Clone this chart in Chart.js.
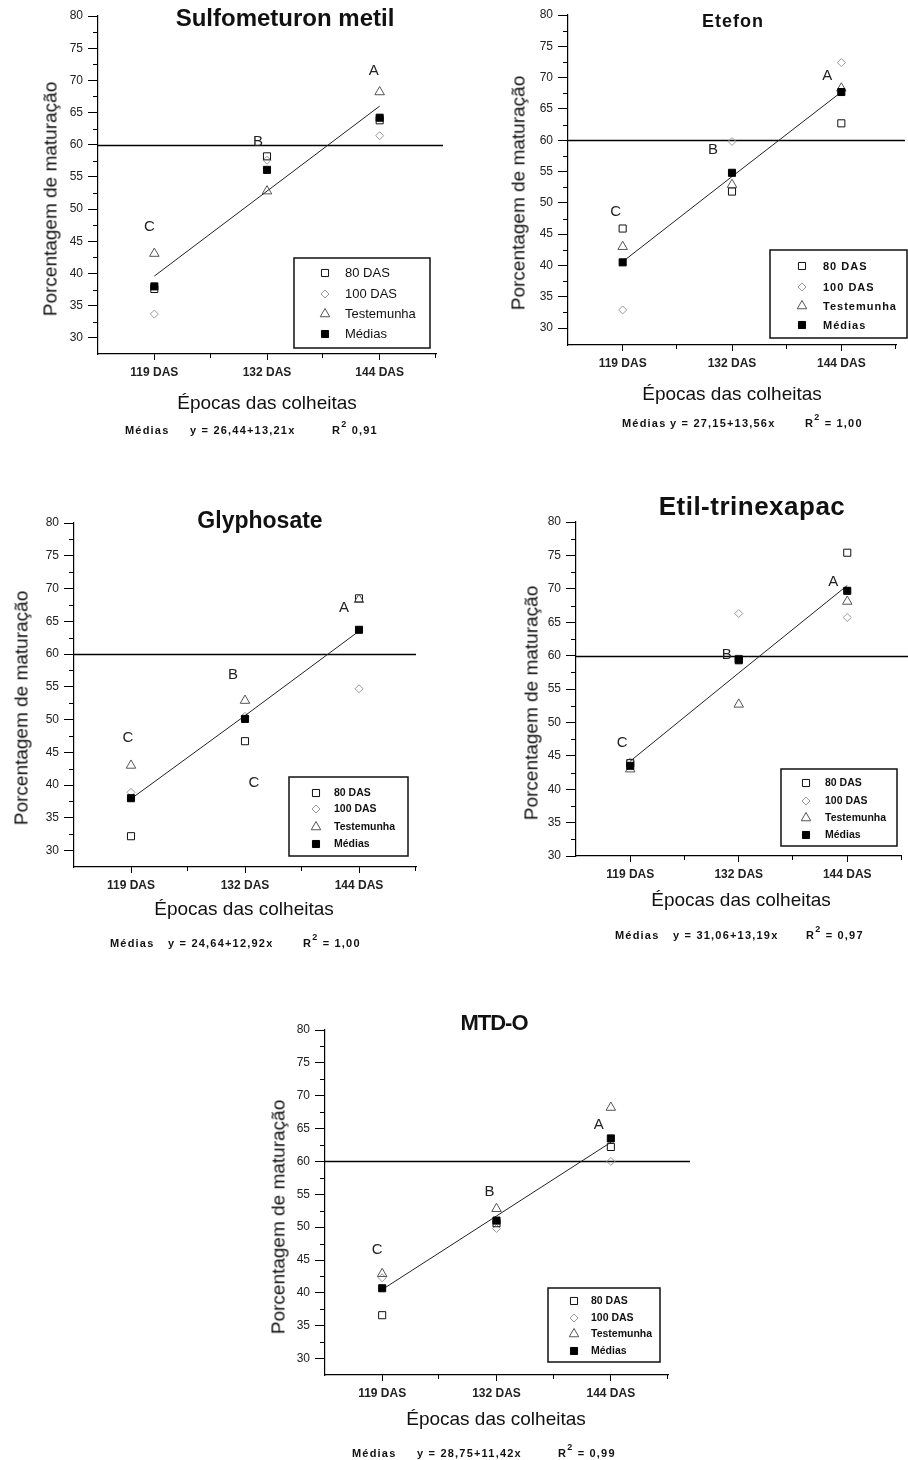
<!DOCTYPE html>
<html lang="pt">
<head>
<meta charset="utf-8">
<title>Porcentagem de maturação</title>
<script src="https://cdn.jsdelivr.net/npm/chart.js@4.4.1/dist/chart.umd.min.js"></script>
<style>
  body { margin: 0; background: #fff; }
  #page { position: relative; width: 908px; height: 1460px; overflow: hidden;
          font-family: "Liberation Sans", Arial, sans-serif; color: #111; }
  canvas { position: absolute; }
  .txt { position: absolute; white-space: nowrap; line-height: 1; transform: translate(-50%, -50%); }
  .titulo { font-weight: bold; }
  .ytit { font-size: 19px; transform: translate(-50%, -50%) rotate(-90deg); }
  .xtit { font-size: 19px; }
  .eq { position: absolute; white-space: nowrap; line-height: 1; transform: translateY(-50%);
        font-size: 11px; font-weight: bold; letter-spacing: 1.2px; }
  .eq sup { font-size: 9px; vertical-align: 7px; line-height: 0; }
</style>
</head>
<body>
<div id="page"></div>
<script>
const categorias = ['119 DAS', '132 DAS', '144 DAS'];
const yTicks = [30, 35, 40, 45, 50, 55, 60, 65, 70, 75, 80];
const limiar = 60;

// Sulfometuron metil
const sulfo80 = [37.6, 58.2, 63.8];
const sulfo100 = [33.7, 57.6, 61.4];
const sulfoTest = [43.1, 52.8, 68.2];
const sulfoMed = [38.0, 56.1, 64.2];
const sulfoFit = [39.6, 52.8, 66.0];
const sulfoLetras = ['C', 'B', 'A'];
const sulfoLetrasY = [47.3, 60.4, 71.5];

// Etefon
const etef80 = [45.9, 51.8, 62.7];
const etef100 = [32.9, 59.8, 72.4];
const etefTest = [43.0, 52.9, 68.3];
const etefMed = [40.5, 54.8, 67.7];
const etefFit = [40.6, 54.2, 67.7];
const etefLetras = ['C', 'B', 'A'];
const etefLetrasY = [48.5, 58.4, 70.3];

// Glyphosate
const glyp80 = [32.2, 46.7, 68.5];
const glyp100 = [38.9, 50.5, 54.7];
const glypTest = [43.0, 52.9, 68.3];
const glypMed = [38.0, 50.1, 63.7];
const glypFit = [37.9, 50.6, 63.5];
const glypLetras = ['C', 'B', 'C', 'A'];
const glypLetrasY = [47.2, 56.8, 40.3, 67.0];

// Etil-trinexapac
const etil80 = [43.9, 59.5, 75.4];
const etil100 = [44.1, 66.3, 65.7];
const etilTest = [43.0, 52.7, 68.1];
const etilMed = [43.5, 59.3, 69.7];
const etilFit = [44.2, 57.4, 70.5];
const etilLetras = ['C', 'B', 'A'];
const etilLetrasY = [47.0, 60.1, 71.0];

// MTD-O
const mtd80 = [36.6, 50.6, 62.2];
const mtd100 = [42.3, 49.8, 60.0];
const mtdTest = [42.9, 52.8, 68.2];
const mtdMed = [40.7, 51.0, 63.5];
const mtdFit = [40.5, 51.7, 62.9];
const mtdLetras = ['C', 'B', 'A'];
const mtdLetrasY = [46.6, 55.4, 65.5];

const FONTE = '"Liberation Sans", Arial, sans-serif';

const paineis = [
  {
    titulo: 'Sulfometuron metil', tit: {x: 285, y: 18, size: 24, ls: 0},
    series: [sulfo80, sulfo100, sulfoTest, sulfoMed], ajuste: sulfoFit,
    letras: sulfoLetras, letrasY: sulfoLetrasY, letraIdx: [0, 1, 2], letraDx: [-5, -9, -6],
    eq: ['Médias', 'y = 26,44+13,21x', '0,91'],
    canvas: {x: 0, y: 0, w: 450, h: 400}, area: {l: 98, r: 436, t: 16, b: 354},
    yMin: 27.5, fimLinha: 443,
    yTit: {x: 50, y: 199}, xTit: {x: 267, y: 402}, eqPos: {y: 430, xs: [125, 190, 332]},
    leg: {x: 294, y: 258, w: 136, h: 90, linhas: [273, 294, 314, 334], mx: 325, tx: 345, fonte: '13px', ls: 0}
  },
  {
    titulo: 'Etefon', tit: {x: 733, y: 21, size: 18, ls: 1},
    series: [etef80, etef100, etefTest, etefMed], ajuste: etefFit,
    letras: etefLetras, letrasY: etefLetrasY, letraIdx: [0, 1, 2], letraDx: [-7, -19, -14],
    eq: ['Médias', 'y = 27,15+13,56x', '= 1,00'],
    canvas: {x: 460, y: 0, w: 448, h: 400}, area: {l: 568, r: 896, t: 15, b: 345},
    yMin: 27.3, fimLinha: 905,
    yTit: {x: 518, y: 193}, xTit: {x: 732, y: 393}, eqPos: {y: 423, xs: [622, 670, 805]},
    leg: {x: 770, y: 250, w: 137, h: 88, linhas: [266, 287, 306, 325], mx: 802, tx: 823, fonte: 'bold 11px', ls: 1}
  },
  {
    titulo: 'Glyphosate', tit: {x: 260, y: 520, size: 23, ls: 0},
    series: [glyp80, glyp100, glypTest, glypMed], ajuste: glypFit,
    letras: glypLetras, letrasY: glypLetrasY, letraIdx: [0, 1, 1, 2], letraDx: [-3, -12, 9, -15],
    eq: ['Médias', 'y = 24,64+12,92x', '= 1,00'],
    canvas: {x: 0, y: 490, w: 450, h: 420}, area: {l: 74, r: 416, t: 523, b: 867},
    yMin: 27.5, fimLinha: 416,
    yTit: {x: 21, y: 708}, xTit: {x: 244, y: 908}, eqPos: {y: 943, xs: [110, 168, 303]},
    leg: {x: 289, y: 777, w: 119, h: 79, linhas: [793, 809, 827, 844], mx: 316, tx: 334, fonte: 'bold 10.5px', ls: 0}
  },
  {
    titulo: 'Etil-trinexapac', tit: {x: 752, y: 506, size: 26, ls: 0.5},
    series: [etil80, etil100, etilTest, etilMed], ajuste: etilFit,
    letras: etilLetras, letrasY: etilLetrasY, letraIdx: [0, 1, 2], letraDx: [-8, -12, -14],
    eq: ['Médias', 'y = 31,06+13,19x', '= 0,97'],
    canvas: {x: 460, y: 490, w: 448, h: 420}, area: {l: 576, r: 908, t: 522, b: 856},
    yMin: 30, fimLinha: 908,
    yTit: {x: 531, y: 703}, xTit: {x: 741, y: 899}, eqPos: {y: 935, xs: [615, 673, 806]},
    leg: {x: 781, y: 769, w: 116, h: 77, linhas: [783, 801, 818, 835], mx: 806, tx: 825, fonte: 'bold 10.5px', ls: 0}
  },
  {
    titulo: 'MTD-O', tit: {x: 494, y: 1023, size: 22, ls: -1},
    series: [mtd80, mtd100, mtdTest, mtdMed], ajuste: mtdFit,
    letras: mtdLetras, letrasY: mtdLetrasY, letraIdx: [0, 1, 2], letraDx: [-5, -7, -12],
    eq: ['Médias', 'y = 28,75+11,42x', '= 0,99'],
    canvas: {x: 240, y: 990, w: 460, h: 440}, area: {l: 325, r: 668, t: 1030, b: 1375},
    yMin: 27.5, fimLinha: 690,
    yTit: {x: 278, y: 1217}, xTit: {x: 496, y: 1418}, eqPos: {y: 1453, xs: [352, 417, 558]},
    leg: {x: 548, y: 1288, w: 112, h: 74, linhas: [1301, 1318, 1334, 1351], mx: 574, tx: 591, fonte: 'bold 10.5px', ls: 0}
  }
];

// estilos das series (ordem da legenda)
const estilos = [
  {label: '80 DAS', pointStyle: 'rect', pointRadius: 5, borderColor: '#111', backgroundColor: 'rgba(255,255,255,0)', order: 3},
  {label: '100 DAS', pointStyle: 'rectRot', pointRadius: 4, borderColor: '#999', backgroundColor: 'rgba(255,255,255,0)', order: 4},
  {label: 'Testemunha', pointStyle: 'triangle', pointRadius: 5.5, borderColor: '#555', backgroundColor: 'rgba(255,255,255,0)', order: 2},
  {label: 'Médias', pointStyle: 'rect', pointRadius: 5, borderColor: '#000', backgroundColor: '#000', order: 0}
];

const page = document.getElementById('page');

function marcador(ctx, ds, x, y) {
  const r = ds.pointRadius;
  ctx.beginPath();
  if (ds.pointStyle === 'rect') {
    const s = r * Math.SQRT1_2;
    ctx.rect(x - s, y - s, 2 * s, 2 * s);
  } else if (ds.pointStyle === 'rectRot') {
    ctx.moveTo(x - r, y); ctx.lineTo(x, y - r); ctx.lineTo(x + r, y); ctx.lineTo(x, y + r); ctx.closePath();
  } else {
    for (let k = 0; k < 3; k++) {
      const a = k * 2 * Math.PI / 3;
      if (k === 0) ctx.moveTo(x + Math.sin(a) * r, y - Math.cos(a) * r);
      else ctx.lineTo(x + Math.sin(a) * r, y - Math.cos(a) * r);
    }
    ctx.closePath();
  }
  ctx.fillStyle = ds.backgroundColor; ctx.fill();
  ctx.strokeStyle = ds.borderColor; ctx.lineWidth = 1; ctx.stroke();
}

function extras(p) {
  return {
    id: 'extras',
    beforeDatasetsDraw(chart) {
      const {ctx, chartArea: a, scales: {x, y}} = chart;
      ctx.save();
      ctx.strokeStyle = '#000';
      ctx.lineWidth = 1;
      ctx.beginPath();
      // ticks menores
      for (let i = 0; i < yTicks.length - 1; i++) {
        const py = Math.round(y.getPixelForValue((yTicks[i] + yTicks[i + 1]) / 2)) + 0.5;
        ctx.moveTo(a.left - 5, py); ctx.lineTo(a.left, py);
      }
      const passo = x.getPixelForValue(1) - x.getPixelForValue(0);
      for (let i = 0; i < categorias.length; i++) {
        const px = Math.round(x.getPixelForValue(i) + passo / 2) - 0.5;
        ctx.moveTo(px, a.bottom); ctx.lineTo(px, a.bottom + 4);
      }
      ctx.stroke();
      // linha de 60%
      const ly = Math.round(y.getPixelForValue(limiar)) + 0.5;
      ctx.lineWidth = 1.3;
      ctx.beginPath();
      ctx.moveTo(a.left, ly); ctx.lineTo(p.fimLinha - p.canvas.x, ly);
      ctx.stroke();
      // letras
      ctx.fillStyle = '#222';
      ctx.font = '15px ' + FONTE;
      ctx.textAlign = 'center';
      ctx.textBaseline = 'middle';
      p.letras.forEach((t, i) => {
        ctx.fillText(t, x.getPixelForValue(p.letraIdx[i]) + p.letraDx[i], y.getPixelForValue(p.letrasY[i]));
      });
      ctx.restore();
    },
    afterDraw(chart) {
      const ctx = chart.ctx;
      const L = p.leg, ox = p.canvas.x, oy = p.canvas.y;
      ctx.save();
      ctx.fillStyle = '#fff';
      ctx.fillRect(L.x - ox, L.y - oy, L.w, L.h);
      ctx.strokeStyle = '#111';
      ctx.lineWidth = 1.5;
      ctx.strokeRect(L.x - ox, L.y - oy, L.w, L.h);
      if ('letterSpacing' in ctx) ctx.letterSpacing = L.ls + 'px';
      chart.data.datasets.slice(0, 4).forEach((ds, i) => {
        const cy = L.linhas[i] - oy;
        marcador(ctx, ds, L.mx - ox, cy);
        ctx.fillStyle = '#111';
        ctx.font = L.fonte + ' ' + FONTE;
        ctx.textAlign = 'left';
        ctx.textBaseline = 'middle';
        ctx.fillText(ds.label, L.tx - ox, cy + 0.5);
      });
      ctx.restore();
    }
  };
}

function texto(cls, txt, x, y, css) {
  const d = document.createElement('div');
  d.className = cls;
  d.textContent = txt;
  d.style.left = x + 'px';
  d.style.top = y + 'px';
  Object.assign(d.style, css || {});
  page.appendChild(d);
  return d;
}

paineis.forEach(p => {
  const c = document.createElement('canvas');
  c.width = p.canvas.w; c.height = p.canvas.h;
  c.style.left = p.canvas.x + 'px'; c.style.top = p.canvas.y + 'px';
  c.style.width = p.canvas.w + 'px'; c.style.height = p.canvas.h + 'px';
  page.appendChild(c);

  const datasets = estilos.map((e, i) => Object.assign({}, e, {
    data: p.series[i], showLine: false, pointBorderWidth: 1
  }));
  datasets.push({label: 'ajuste', data: p.ajuste, pointRadius: 0, borderColor: '#222',
                 borderWidth: 1, tension: 0, fill: false, order: 1});

  new Chart(c.getContext('2d'), {
    type: 'line',
    data: {labels: categorias, datasets: datasets},
    options: {
      responsive: false,
      animation: false,
      devicePixelRatio: 1,
      events: [],
      layout: {padding: {
        left: p.area.l - p.canvas.x - 40,
        right: p.canvas.x + p.canvas.w - p.area.r,
        top: p.area.t - p.canvas.y,
        bottom: p.canvas.y + p.canvas.h - p.area.b - 30
      }},
      plugins: {legend: {display: false}, title: {display: false}, tooltip: {enabled: false}},
      scales: {
        x: {
          type: 'category', offset: true,
          grid: {offset: false, drawOnChartArea: false, tickLength: 6, color: '#000'},
          border: {color: '#000', width: 1.2},
          ticks: {font: {size: 12, weight: 'bold', family: FONTE}, color: '#222', padding: 5,
                  maxRotation: 0, autoSkip: false},
          afterFit(s) { s.height = 30; }
        },
        y: {
          min: p.yMin, max: 80,
          grid: {drawOnChartArea: false, tickLength: 10, color: '#000'},
          border: {color: '#000', width: 1.2},
          ticks: {font: {size: 12, family: FONTE}, color: '#222', padding: 5},
          afterBuildTicks(s) { s.ticks = yTicks.map(v => ({value: v})); },
          afterFit(s) { s.width = 40; }
        }
      }
    },
    plugins: [extras(p)]
  });

  texto('txt titulo', p.titulo, p.tit.x, p.tit.y, {fontSize: p.tit.size + 'px', letterSpacing: p.tit.ls + 'px'});
  texto('txt ytit', 'Porcentagem de maturação', p.yTit.x, p.yTit.y);
  texto('txt xtit', 'Épocas das colheitas', p.xTit.x, p.xTit.y);
  texto('eq', p.eq[0], p.eqPos.xs[0], p.eqPos.y);
  texto('eq', p.eq[1], p.eqPos.xs[1], p.eqPos.y);
  const r2 = texto('eq', 'R', p.eqPos.xs[2], p.eqPos.y);
  const sup = document.createElement('sup');
  sup.textContent = '2';
  r2.appendChild(sup);
  r2.appendChild(document.createTextNode(' ' + p.eq[2]));
});
</script>
</body>
</html>
